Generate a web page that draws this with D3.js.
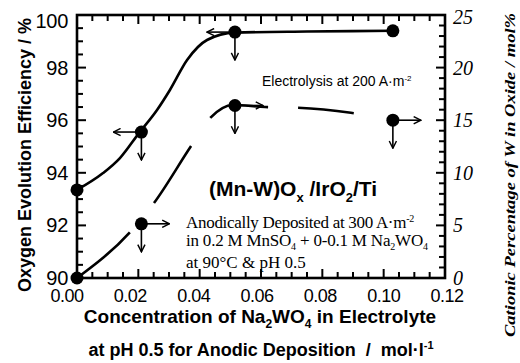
<!DOCTYPE html>
<html>
<head>
<meta charset="utf-8">
<script src="https://cdn.jsdelivr.net/npm/d3@7"></script>
<style>
  body { margin: 0; background: #fff; }
  svg { display: block; }
  .sans { font-family: "Liberation Sans", Arial, sans-serif; }
  .serif { font-family: "Liberation Serif", "Times New Roman", serif; }
</style>
</head>
<body>
<div id="chart"></div>
<script>
// measured points: concentration of Na2WO4 (mol/l)
var conc = [0, 0.021, 0.0515, 0.103];
// oxygen evolution efficiency (%)
var efficiency = [93.35, 95.55, 99.35, 99.4];
// cationic percentage of W in oxide (mol%)
var wContent = [0, 5.15, 16.4, 15.0];

// guide curves as drawn in the figure
var effFitX = [0, 0.0085, 0.014, 0.0202, 0.0261, 0.0303, 0.0359, 0.0424, 0.0515, 0.075, 0.103];
var effFit = [93.35, 93.99, 94.56, 95.51, 96.39, 97.15, 98.29, 99.05, 99.33, 99.37, 99.4];
var wFitX = [0, 0.0173, 0.0251, 0.0372, 0.0434, 0.0509, 0.0613, 0.0711, 0.0893, 0.1024];
var wFit = [0, 4.37, 7.13, 12.55, 15.2, 16.45, 16.25, 16.2, 15.7, 15.0];

var xTicks = [0, 0.02, 0.04, 0.06, 0.08, 0.10, 0.12];
var effTicks = [90, 92, 94, 96, 98, 100];
var wTicks = [0, 5, 10, 15, 20, 25];

var width = 520, height = 363;
var margin = { left: 77, right: 75, top: 15, bottom: 85 };

var svg = d3.select('#chart').append('svg')
    .attr('width', width)
    .attr('height', height);

var x = d3.scaleLinear().domain([0, 0.12]).range([margin.left, width - margin.right]);
var yL = d3.scaleLinear().domain([90, 100]).range([height - margin.bottom, margin.top]);
var yR = d3.scaleLinear().domain([0, 25]).range([height - margin.bottom, margin.top]);

var x0 = margin.left, x1 = width - margin.right;
var y0 = height - margin.bottom, y1 = margin.top;

// open arrow head
svg.append('defs').append('marker')
    .attr('id', 'head')
    .attr('viewBox', '0 0 10 10')
    .attr('refX', 9).attr('refY', 5)
    .attr('markerWidth', 9).attr('markerHeight', 9)
    .attr('markerUnits', 'userSpaceOnUse')
    .attr('orient', 'auto')
    .append('path')
    .attr('d', 'M1,1 L9,5 L1,9')
    .attr('fill', 'none')
    .attr('stroke', '#000')
    .attr('stroke-width', 1.6);

// guide curves
var effLine = d3.line()
    .x(function (d, i) { return x(effFitX[i]); })
    .y(function (d) { return yL(d); })
    .curve(d3.curveMonotoneX);

var wLine = d3.line()
    .x(function (d, i) { return x(wFitX[i]); })
    .y(function (d) { return yR(d); })
    .curve(d3.curveMonotoneX);

svg.append('path')
    .datum(effFit)
    .attr('d', effLine)
    .attr('fill', 'none')
    .attr('stroke', '#000')
    .attr('stroke-width', 2.6);

svg.append('path')
    .datum(wFit)
    .attr('d', wLine)
    .attr('fill', 'none')
    .attr('stroke', '#000')
    .attr('stroke-width', 2.6)
    .attr('stroke-dasharray', '70,38,68,34,62,30,56,60');

// arrows: efficiency -> left axis, W content -> right axis
function arrows(vals, scale, dir, skipLast) {
    vals.forEach(function (v, i) {
        if (i === 0) return;
        if (skipLast && i === vals.length - 1) return;
        var cx = x(conc[i]), cy = scale(v);
        svg.append('line')
            .attr('x1', cx).attr('y1', cy)
            .attr('x2', cx + dir * 28).attr('y2', cy)
            .attr('stroke', '#000').attr('stroke-width', 1.6)
            .attr('marker-end', 'url(#head)');
        svg.append('line')
            .attr('x1', cx).attr('y1', cy)
            .attr('x2', cx).attr('y2', cy + 28)
            .attr('stroke', '#000').attr('stroke-width', 1.6)
            .attr('marker-end', 'url(#head)');
    });
}
arrows(efficiency, yL, -1, true);
arrows(wContent, yR, 1, false);

svg.selectAll('circle.eff')
    .data(efficiency)
    .enter().append('circle')
    .attr('class', 'eff')
    .attr('cx', function (d, i) { return x(conc[i]); })
    .attr('cy', function (d) { return yL(d); })
    .attr('r', 6.5);

svg.selectAll('circle.w')
    .data(wContent)
    .enter().append('circle')
    .attr('class', 'w')
    .attr('cx', function (d, i) { return x(conc[i]); })
    .attr('cy', function (d) { return yR(d); })
    .attr('r', 6.5);

// inward ticks on all four sides
var ax = svg.append('g').attr('stroke', '#000').attr('stroke-width', 2);

d3.range(0, 0.12001, 0.005).forEach(function (t) {
    var major = Math.abs(t / 0.02 - Math.round(t / 0.02)) < 1e-6;
    var len = major ? 9 : 6;
    ax.append('line').attr('x1', x(t)).attr('x2', x(t)).attr('y1', y0).attr('y2', y0 - len);
    ax.append('line').attr('x1', x(t)).attr('x2', x(t)).attr('y1', y1).attr('y2', y1 + len);
});
d3.range(90, 100.001, 0.5).forEach(function (t) {
    var major = Math.abs(t / 2 - Math.round(t / 2)) < 1e-6;
    ax.append('line').attr('x1', x0).attr('x2', x0 + (major ? 9 : 6)).attr('y1', yL(t)).attr('y2', yL(t));
});
d3.range(0, 25.001, 1).forEach(function (t) {
    var major = t % 5 === 0;
    ax.append('line').attr('x1', x1).attr('x2', x1 - (major ? 9 : 6)).attr('y1', yR(t)).attr('y2', yR(t));
});

svg.append('rect')
    .attr('x', x0).attr('y', y1)
    .attr('width', x1 - x0).attr('height', y0 - y1)
    .attr('fill', 'none')
    .attr('stroke', '#000')
    .attr('stroke-width', 2.6);

// tick labels
svg.append('g').selectAll('text')
    .data(effTicks)
    .enter().append('text')
    .attr('class', 'sans')
    .attr('x', x0 - 9)
    .attr('y', function (d) { return yL(d) + (d === 100 ? 13 : 7); })
    .attr('text-anchor', 'end')
    .style('font-size', '20px')
    .style('letter-spacing', '-0.3px')
    .text(function (d) { return d; });

svg.append('g').selectAll('text')
    .data(xTicks)
    .enter().append('text')
    .attr('class', 'sans')
    .attr('x', function (d) { return x(d) - 10 + d * 100; })
    .attr('y', y0 + 24)
    .attr('text-anchor', 'middle')
    .style('font-size', '18px')
    .style('letter-spacing', '-0.5px')
    .text(function (d) { return d3.format('.2f')(d); });

svg.append('g').selectAll('text')
    .data(wTicks)
    .enter().append('text')
    .attr('class', 'serif')
    .attr('x', x1 + 8)
    .attr('y', function (d) { return yR(d) + (d === 25 ? 9 : 7); })
    .style('font-size', '20px')
    .style('font-style', 'italic')
    .text(function (d) { return d; });

// axis titles
svg.append('text')
    .attr('class', 'sans')
    .attr('transform', 'translate(31,155) rotate(-90)')
    .attr('text-anchor', 'middle')
    .style('font-size', '18px')
    .style('font-weight', 'bold')
    .text('Oxygen Evolution Efficiency / %');

svg.append('text')
    .attr('class', 'serif')
    .attr('transform', 'translate(515,175) rotate(-90)')
    .attr('text-anchor', 'middle')
    .attr('textLength', 324)
    .attr('lengthAdjust', 'spacingAndGlyphs')
    .style('font-size', '15px')
    .style('font-style', 'italic')
    .style('font-weight', 'bold')
    .text('Cationic Percentage of W in Oxide / mol%');

var xt = svg.append('text')
    .attr('class', 'sans')
    .attr('x', 260).attr('y', 323)
    .attr('text-anchor', 'middle')
    .style('font-size', '19px')
    .style('font-weight', 'bold');
xt.append('tspan').text('Concentration of Na');
xt.append('tspan').attr('dy', 5).style('font-size', '12px').text('2');
xt.append('tspan').attr('dy', -5).text('WO');
xt.append('tspan').attr('dy', 5).style('font-size', '12px').text('4');
xt.append('tspan').attr('dy', -5).text(' in Electrolyte');

var xt2 = svg.append('text')
    .attr('class', 'sans')
    .attr('x', 261).attr('y', 356)
    .attr('text-anchor', 'middle')
    .style('font-size', '18px')
    .style('font-weight', 'bold')
    .style('white-space', 'pre');
xt2.append('tspan').text('at pH 0.5 for Anodic Deposition  /  mol·l');
xt2.append('tspan').attr('dy', -7).style('font-size', '11px').text('-1');

// annotations
var e = svg.append('text')
    .attr('class', 'sans')
    .attr('x', 262).attr('y', 86)
    .style('font-size', '14px');
e.append('tspan').text('Electrolysis at 200 A·m');
e.append('tspan').attr('dy', -5).style('font-size', '8px').text('-2');

var m = svg.append('text')
    .attr('class', 'sans')
    .attr('x', 209).attr('y', 196)
    .style('font-size', '21px')
    .style('font-weight', 'bold');
m.append('tspan').text('(Mn-W)O');
m.append('tspan').attr('dy', 6).style('font-size', '13px').text('x');
m.append('tspan').attr('dy', -6).text(' /IrO');
m.append('tspan').attr('dy', 6).style('font-size', '13px').text('2');
m.append('tspan').attr('dy', -6).text('/Ti');

var a1 = svg.append('text')
    .attr('class', 'serif')
    .attr('x', 186).attr('y', 228)
    .style('font-size', '17px')
    .style('letter-spacing', '-0.3px');
a1.append('tspan').text('Anodically Deposited at 300 A·m');
a1.append('tspan').attr('dy', -6).style('font-size', '10px').text('-2');

var a2 = svg.append('text')
    .attr('class', 'serif')
    .attr('x', 186).attr('y', 246)
    .style('font-size', '17px')
    .style('letter-spacing', '-0.2px');
a2.append('tspan').text('in 0.2 M MnSO');
a2.append('tspan').attr('dy', 4).style('font-size', '10px').text('4');
a2.append('tspan').attr('dy', -4).text(' + 0-0.1 M Na');
a2.append('tspan').attr('dy', 4).style('font-size', '10px').text('2');
a2.append('tspan').attr('dy', -4).text('WO');
a2.append('tspan').attr('dy', 4).style('font-size', '10px').text('4');

svg.append('text')
    .attr('class', 'serif')
    .attr('x', 186).attr('y', 268)
    .style('font-size', '17px')
    .text('at 90°C & pH 0.5');
</script>
</body>
</html>
